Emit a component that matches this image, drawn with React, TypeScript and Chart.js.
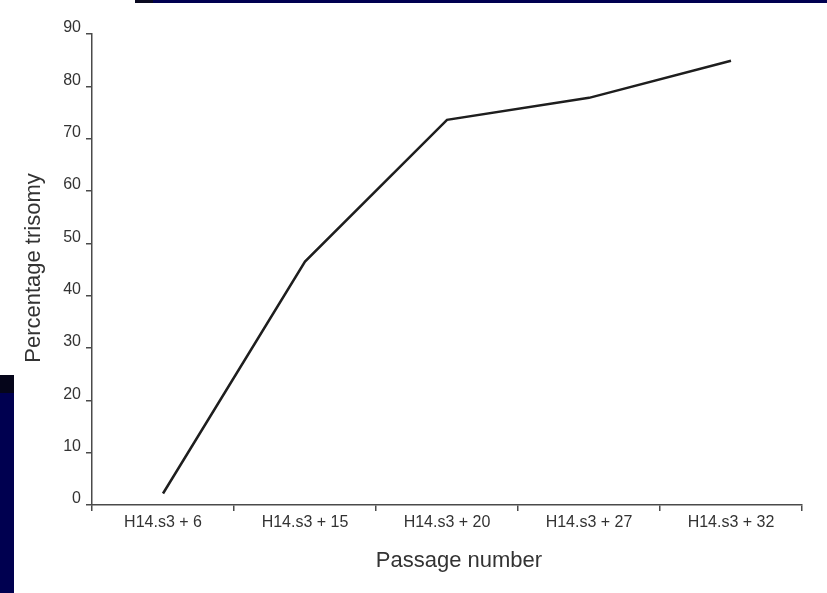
import React, { useEffect, useRef } from "react";
import { Chart, registerables } from "chart.js";

Chart.register(...registerables);

const categories = ["H14.s3 + 6", "H14.s3 + 15", "H14.s3 + 20", "H14.s3 + 27", "H14.s3 + 32"];
const trisomy = [2.2, 46.5, 73.6, 77.8, 84.9];
const yTitle = "Percentage trisomy";
const xTitle = "Passage number";

const FONT = "'Liberation Sans', Arial, sans-serif";

const titlesPlugin = {
  id: "axisTitles",
  afterDraw(chart: any) {
    const ctx = chart.ctx;
    ctx.save();
    ctx.fillStyle = "#333333";
    ctx.font = `22px ${FONT}`;
    ctx.textAlign = "center";
    ctx.textBaseline = "middle";
    ctx.fillText(xTitle, 459, 561);
    ctx.translate(34, 268);
    ctx.rotate(-Math.PI / 2);
    ctx.fillText(yTitle, 0, 0);
    ctx.restore();
  },
};

export default function App() {
  const ref = useRef<HTMLCanvasElement>(null);
  useEffect(() => {
    if (!ref.current) return;
    const chart = new Chart(ref.current, {
      type: "line",
      data: {
        labels: categories,
        datasets: [
          {
            data: trisomy,
            borderColor: "#1e1e1e",
            borderWidth: 2.5,
            pointRadius: 0,
            tension: 0,
            fill: false,
          },
        ],
      },
      options: {
        responsive: false,
        animation: false,
        layout: { padding: { top: 34, right: 25, left: 0, bottom: 0 } },
        plugins: { legend: { display: false }, tooltip: { enabled: false } },
        scales: {
          x: {
            offset: true,
            grid: {
              offset: true,
              drawOnChartArea: false,
              drawTicks: true,
              tickLength: 6,
              color: "#4a4a4a",
              lineWidth: 1.5,
            },
            border: { display: true, color: "#4a4a4a", width: 1.5 },
            ticks: {
              color: "#333333",
              font: { family: FONT, size: 16 },
              padding: 2,
              maxRotation: 0,
              autoSkip: false,
            },
            afterFit(scale: any) {
              scale.height = 88;
            },
          },
          y: {
            min: 0,
            max: 90,
            grid: {
              drawOnChartArea: false,
              drawTicks: true,
              tickLength: 6,
              color: "#4a4a4a",
              lineWidth: 1.5,
            },
            border: { display: true, color: "#4a4a4a", width: 1.5 },
            ticks: {
              stepSize: 10,
              color: "#333333",
              font: { family: FONT, size: 16 },
              padding: 5,
              labelOffset: -6,
            },
            afterFit(scale: any) {
              scale.width = 92;
            },
          },
        },
      },
      plugins: [titlesPlugin],
    });
    return () => chart.destroy();
  }, []);

  return (
    <div style={{ position: "fixed", left: 0, top: 0, width: 827, height: 593, background: "#ffffff", overflow: "hidden" }}>
      <canvas ref={ref} width={827} height={593} style={{ position: "absolute", left: 0, top: 0 }} />
      <div style={{ position: "absolute", left: 135, top: 0, width: 18, height: 3, background: "#0a0a20" }} />
      <div style={{ position: "absolute", left: 153, top: 0, width: 674, height: 3, background: "#000050" }} />
      <div style={{ position: "absolute", left: 0, top: 375, width: 14, height: 18, background: "#05051a" }} />
      <div style={{ position: "absolute", left: 0, top: 393, width: 14, height: 200, background: "#000050" }} />
    </div>
  );
}
